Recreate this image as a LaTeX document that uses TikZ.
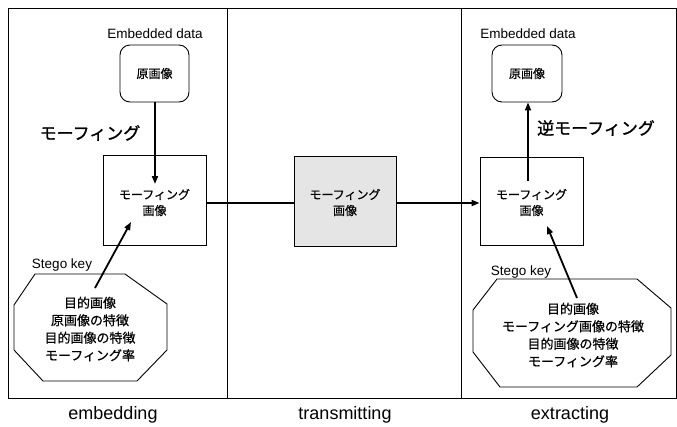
\documentclass[tikz,border=0pt]{standalone}
\usepackage{fontspec}
\setmainfont{Liberation Sans}
\newfontfamily\jp{Noto Sans CJK JP}[FakeBold=0.6]
\newfontfamily\jpbig{Noto Sans CJK JP}[FakeBold=1.2]
\usetikzlibrary{arrows.meta}
\begin{document}
\begin{tikzpicture}[x=1pt,y=-1pt,
  frame/.style={draw=black,line width=1pt},
  boxj/.style={draw=black,line width=0.9pt,align=center,font=\jp\fontsize{12}{16}\selectfont},
  flow/.style={line width=1.8pt,-{Triangle[length=8pt,width=6pt]}},
  lab/.style={font=\fontsize{13.5}{16}\selectfont},
  big/.style={font=\jpbig\fontsize{17}{20}\selectfont},
  phase/.style={font=\fontsize{18}{20}\selectfont},
  oct/.style={align=center,font=\jp\fontsize{13}{17.5}\selectfont}]
\useasboundingbox (0,0) rectangle (677,426);
% frame
\draw[frame] (8,8) rectangle (676,398);
\draw[frame] (227,8) -- (227,398);
\draw[frame] (461,8) -- (461,398);
% phase labels
\node[phase] (pe) at (113,415) {embedding};
\node[phase] (pt) at (345,415) {transmitting};
\node[phase] (px) at (570,415) {extracting};
% ---- left panel
\node[lab] (ed1) at (155,34) {Embedded data};
\node[boxj,rounded corners=10pt,minimum width=69pt,minimum height=57pt] (orig1) at (154.5,73.5) {原画像};
\node[big] (mf1) at (90,133) {モーフィング};
\node[draw=black,line width=0.9pt,minimum width=103pt,minimum height=90pt] (mb1) at (154.5,200) {};
\node[boxj,draw=none] (mt1) at (154.5,202.5) {モーフィング\\画像};
\coordinate (t1) at (155,184);
\draw[flow] (orig1.south -| t1) -- (t1);
\node[lab] (sk1) at (62,265) {Stego key};
\coordinate (o1a) at (35,274); \coordinate (o1b) at (125,274);
\coordinate (o1c) at (167,304); \coordinate (o1d) at (167,350);
\coordinate (o1e) at (137,381); \coordinate (o1f) at (43,381);
\coordinate (o1g) at (14,350); \coordinate (o1h) at (14,305);
\draw[line width=0.9pt] (o1a) -- (o1b) -- (o1c) -- (o1d) -- (o1e) -- (o1f) -- (o1g) -- (o1h) -- cycle;
\node[oct] (ot1) at (90,329) {目的画像\\原画像の特徴\\目的画像の特徴\\モーフィング率};
\coordinate (s1a) at (95,288); \coordinate (s1b) at (131,222);
\draw[flow] (s1a) -- (s1b);
% ---- middle panel
\node[draw=black,line width=0.9pt,fill=black!10,minimum width=102pt,minimum height=90pt] (mb2) at (345,201) {};
\node[boxj,draw=none] (mt2) at (345,202.5) {モーフィング\\画像};
% ---- right panel
\node[lab] (ed3) at (528,34) {Embedded data};
\node[boxj,rounded corners=10pt,minimum width=70pt,minimum height=57pt] (orig3) at (527,73.5) {原画像};
\node[big] (mf3) at (596,128) {逆モーフィング};
\node[draw=black,line width=0.9pt,minimum width=103pt,minimum height=88pt] (mb3) at (531.5,201) {};
\node[boxj,draw=none] (mt3) at (531.5,202.5) {モーフィング\\画像};
\coordinate (t3) at (528,181);
\draw[flow] (t3) -- (orig3.south -| t3);
\node[lab] (sk3) at (521,272) {Stego key};
\coordinate (o3a) at (497,279); \coordinate (o3b) at (637,279);
\coordinate (o3c) at (671,308); \coordinate (o3d) at (671,355);
\coordinate (o3e) at (637,387); \coordinate (o3f) at (500,387);
\coordinate (o3g) at (473,352); \coordinate (o3h) at (473,310);
\draw[line width=0.9pt] (o3a) -- (o3b) -- (o3c) -- (o3d) -- (o3e) -- (o3f) -- (o3g) -- (o3h) -- cycle;
\node[oct] (ot3) at (573,335) {目的画像\\モーフィング画像の特徴\\目的画像の特徴\\モーフィング率};
\coordinate (s3a) at (577,298); \coordinate (s3b) at (547,226);
\draw[flow] (s3a) -- (s3b);
% ---- transmission line
\coordinate (y0) at (0,203);
\draw[line width=1.8pt] (mb1.east |- y0) -- (mb2.west |- y0);
\draw[flow] (mb2.east |- y0) -- (mb3.west |- y0);
\end{tikzpicture}
\end{document}
